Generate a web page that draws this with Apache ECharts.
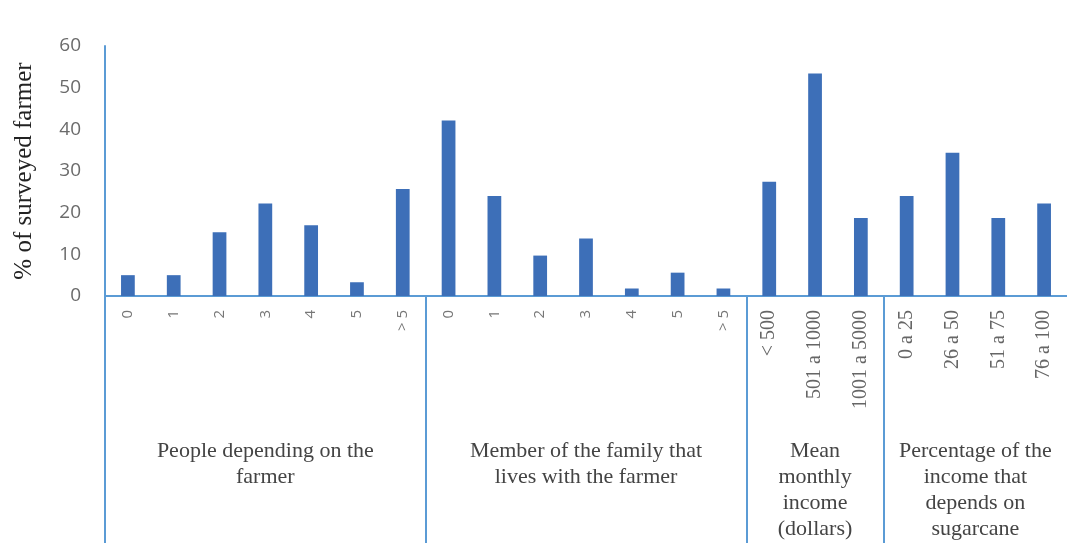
<!DOCTYPE html>
<html>
<head>
<meta charset="utf-8">
<script src="https://cdn.jsdelivr.net/npm/echarts@6/dist/echarts.min.js"></script>
<style>
    html, body { margin: 0; padding: 0; background: #fff; }
    #chart { width: 1067px; height: 543px; }
</style>
</head>
<body>
<div id="chart"></div>
<script>
// categories (bar labels) per group
var catPeople = ['0', '1', '2', '3', '4', '5', '> 5']
var catFamily = ['0', '1', '2', '3', '4', '5', '> 5']
var catIncome = ['< 500', '501 a 1000', '1001 a 5000']
var catShare = ['0 a 25', '26 a 50', '51 a 75', '76 a 100']

// % of surveyed farmers
var valPeople = [5.0, 5.0, 15.3, 22.2, 17.0, 3.3, 25.7]
var valFamily = [42.1, 24.0, 9.7, 13.8, 1.8, 5.6, 1.8]
var valIncome = [27.4, 53.4, 18.7]
var valShare = [24.0, 34.4, 18.7, 22.2]

var groupNames = [
    'People depending on the\nfarmer',
    'Member of the family that\nlives with the farmer',
    'Mean\nmonthly\nincome\n(dollars)',
    'Percentage of the\nincome that\ndepends on\nsugarcane'
]
var yTicks = [0, 10, 20, 30, 40, 50, 60]

var blue = '#3d6fb8'
var lineBlue = '#5b9bd5'
var sans = 'Open Sans'
var serif = 'Liberation Serif'

var groups = [catPeople, catFamily, catIncome, catShare]
var serifGroups = [false, false, true, true]

// build category list with label styles
var categories = []
var values = [].concat(valPeople, valFamily, valIncome, valShare)
groups.forEach(function (g, gi) {
    g.forEach(function (c) {
        categories.push({
            value: c,
            textStyle: serifGroups[gi]
                ? { fontFamily: serif, fontSize: 20, color: '#666' }
                : { fontFamily: sans, fontSize: 15, color: '#777' }
        })
    })
})

// group boundaries and centers in category units
var bounds = [0]
var centers = []
groups.forEach(function (g) {
    var start = bounds[bounds.length - 1]
    centers.push(start + g.length / 2)
    bounds.push(start + g.length)
})
var total = bounds[bounds.length - 1]
var separators = bounds.slice(0, bounds.length - 1)   // no line at right edge

var chart = echarts.init(document.getElementById('chart'))
var option = {
    animation: false,
    grid: { left: 105, right: 0, top: 46, bottom: 247, containLabel: false },
    xAxis: [
        {
            type: 'category',
            data: categories,
            position: 'bottom',
            axisLine: { lineStyle: { color: lineBlue, width: 2 } },
            axisTick: { show: false },
            axisLabel: { rotate: 90, margin: 14, interval: 0 }
        },
        {
            type: 'value',
            min: 0,
            max: total,
            position: 'bottom',
            axisLine: { show: false },
            splitLine: { show: false },
            axisTick: {
                show: true,
                customValues: separators,
                length: 250,
                lineStyle: { color: lineBlue, width: 2 }
            },
            axisLabel: {
                customValues: centers,
                margin: 142,
                fontFamily: serif,
                fontSize: 22,
                lineHeight: 26,
                color: '#444',
                formatter: function (v) {
                    var i = centers.indexOf(v)
                    return i >= 0 ? groupNames[i] : ''
                }
            }
        }
    ],
    yAxis: {
        type: 'value',
        min: yTicks[0],
        max: yTicks[yTicks.length - 1],
        interval: 10,
        name: '% of surveyed farmer',
        nameLocation: 'middle',
        nameGap: 68,
        nameTextStyle: { fontFamily: serif, fontSize: 25, color: '#222' },
        axisLine: { show: true, lineStyle: { color: lineBlue, width: 2 } },
        axisTick: { show: false },
        splitLine: { show: false },
        axisLabel: { fontFamily: sans, fontSize: 19, color: '#6b6b6b', margin: 24 }
    },
    series: [
        {
            type: 'bar',
            xAxisIndex: 0,
            data: values,
            barWidth: '30%',
            itemStyle: { color: blue }
        }
    ]
}
chart.setOption(option)
</script>
</body>
</html>
